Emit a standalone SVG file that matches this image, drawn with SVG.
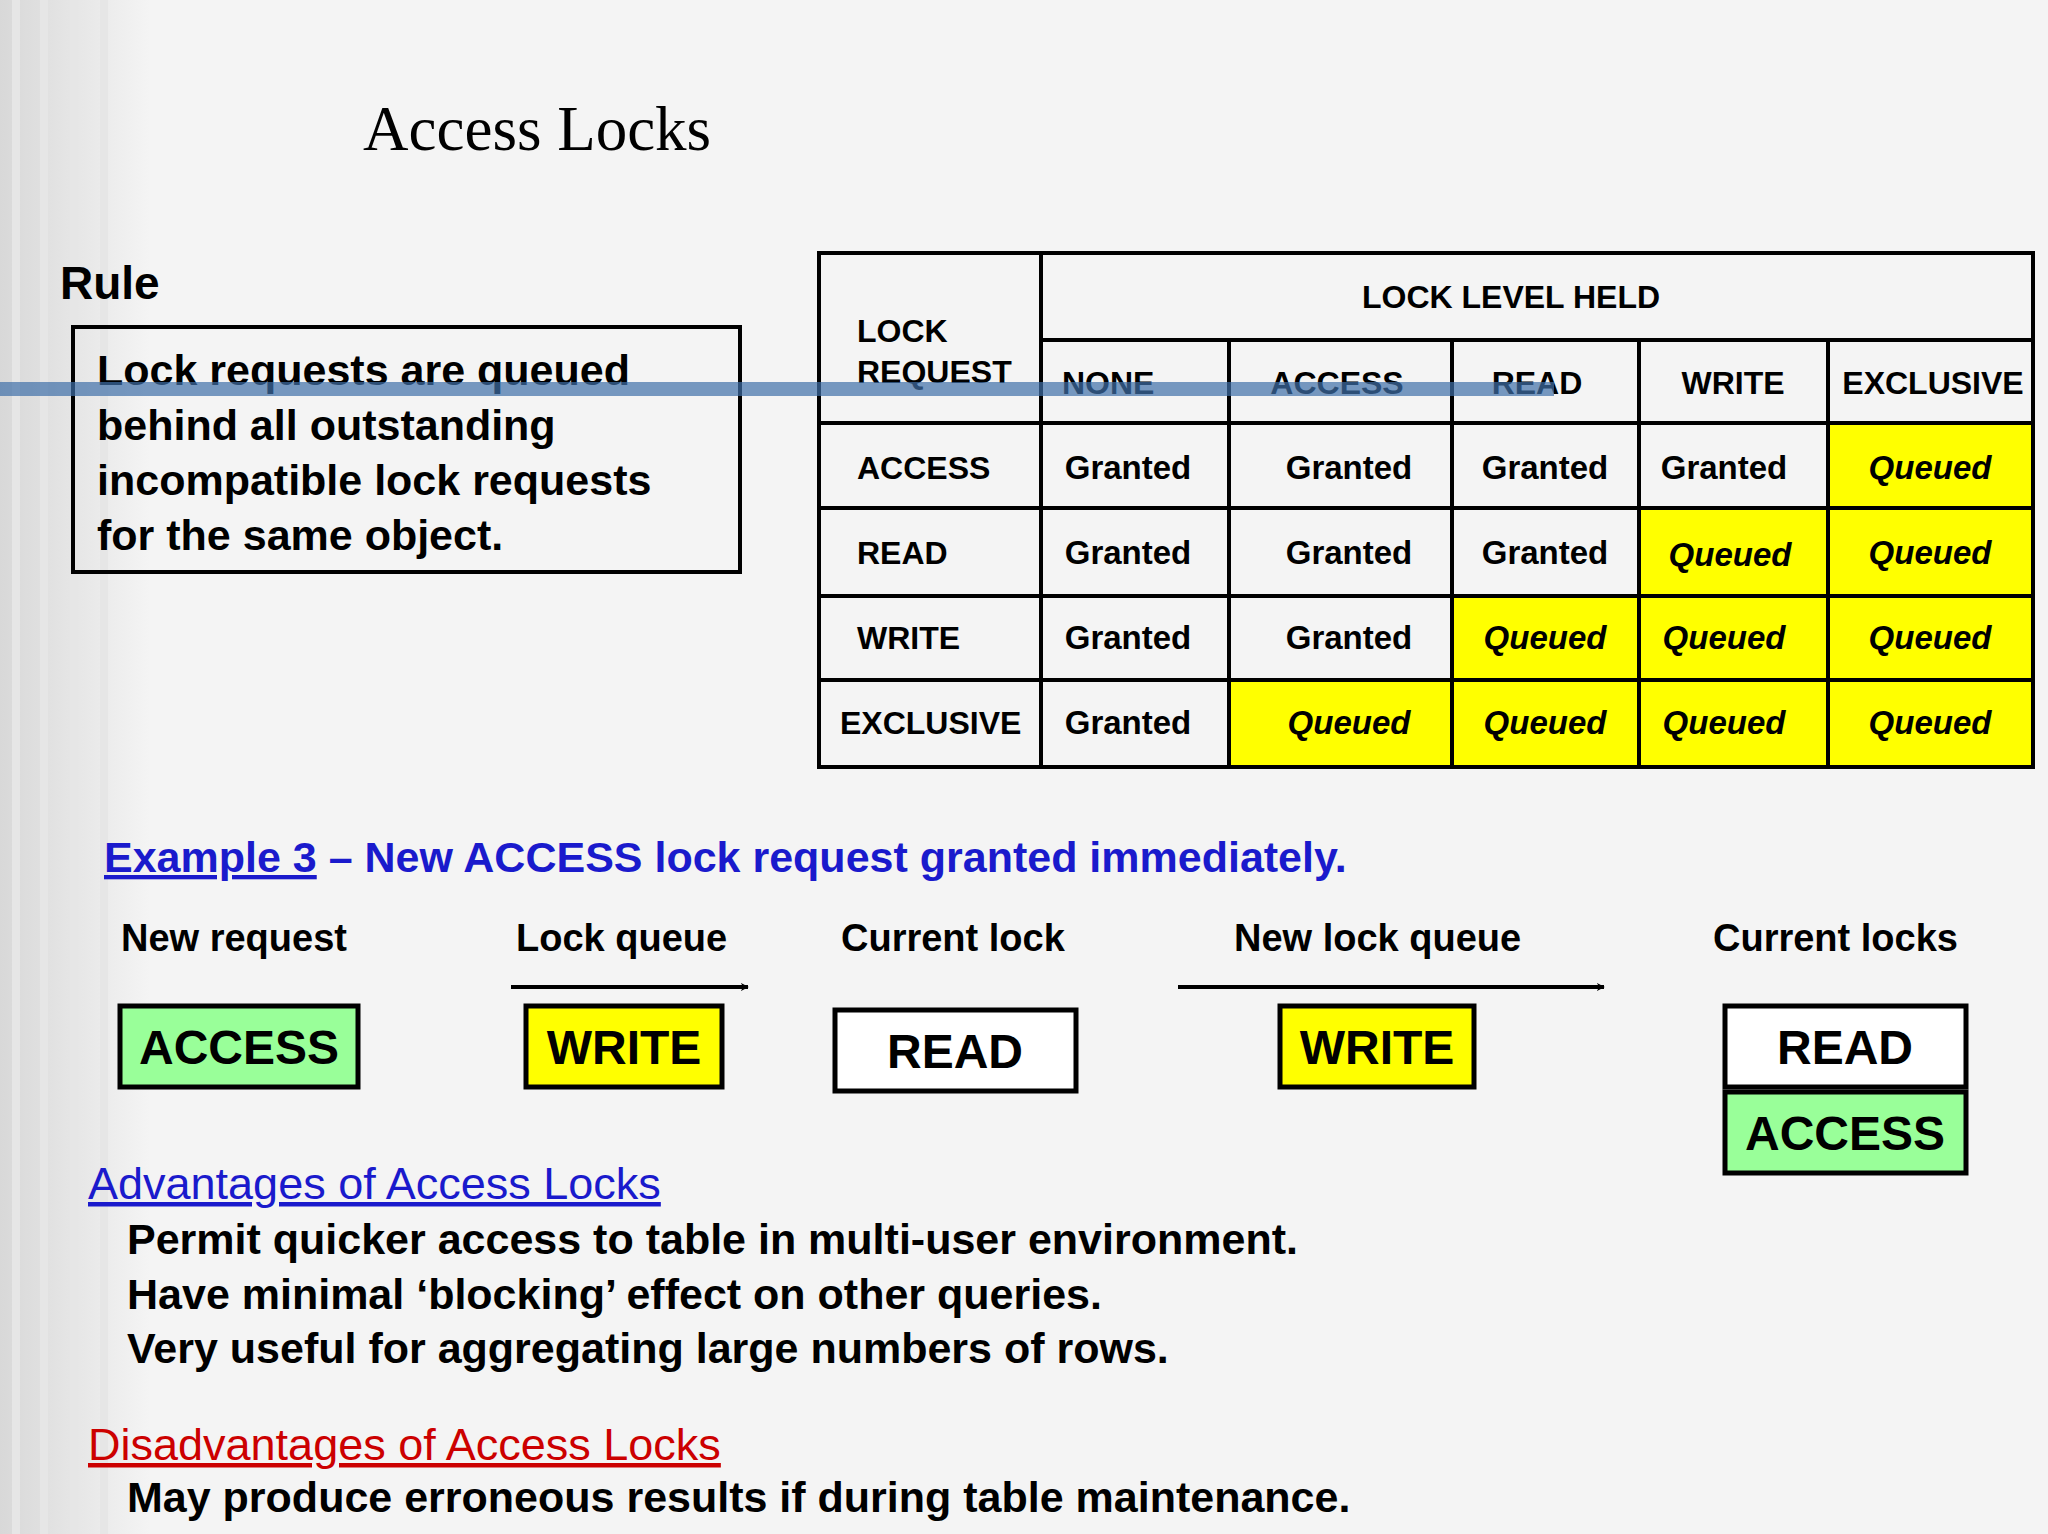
<svg xmlns="http://www.w3.org/2000/svg" width="2048" height="1534" viewBox="0 0 2048 1534">
<defs>
<linearGradient id="lg" x1="0" x2="1" y1="0" y2="0">
<stop offset="0" stop-color="#d8d8d8"/><stop offset="1" stop-color="#f4f4f4"/>
</linearGradient>
<marker id="ah" viewBox="0 0 10 10" refX="9" refY="5" markerWidth="8" markerHeight="8" orient="auto" markerUnits="userSpaceOnUse">
<path d="M0,0 L10,5 L0,10 L3,5 z" fill="#000"/>
</marker>
<style>
text{font-family:"Liberation Sans",Arial,sans-serif;font-weight:bold;fill:#000}
.th{font-size:32px}
.c{font-size:33px;text-anchor:middle}
.q{font-style:italic}
.y{fill:#ffff00}
.g{fill:#99ff99}
.w{fill:#fff}
.bx{stroke:#000;stroke-width:5}
.bt{font-size:48px;text-anchor:middle}
.hd{font-size:38px}
.bl{font-size:43px}
</style>
</defs>
<rect width="2048" height="1534" fill="#f4f4f4"/>
<rect width="150" height="1534" fill="url(#lg)"/>
<g fill="#e6e6e6"><rect x="12" y="0" width="8" height="1534"/><rect x="40" y="0" width="8" height="1534"/><rect x="70" y="0" width="8" height="1534"/><rect x="100" y="0" width="8" height="1534"/></g>
<text x="363" y="150" style="font-family:'Liberation Serif',serif;font-weight:normal;font-size:63px">Access Locks</text>
<text x="60" y="299" style="font-size:46px">Rule</text>
<g id="rule">
<rect x="73" y="327" width="667" height="245" fill="none" stroke="#000" stroke-width="4"/>
<text class="bl" x="97" y="385">Lock requests are queued</text>
<text class="bl" x="97" y="440">behind all outstanding</text>
<text class="bl" x="97" y="495">incompatible lock requests</text>
<text class="bl" x="97" y="550">for the same object.</text>
</g>
<g id="table">
<rect x="1828" y="423" width="205" height="85" class="y"/>
<rect x="1639" y="508" width="394" height="88" class="y"/>
<rect x="1452" y="596" width="581" height="84" class="y"/>
<rect x="1229" y="680" width="804" height="87" class="y"/>
<g stroke="#000" stroke-width="4" fill="none">
<rect x="819" y="253" width="1214" height="514"/>
<line x1="1041" y1="253" x2="1041" y2="767"/>
<line x1="1229" y1="340" x2="1229" y2="767"/>
<line x1="1452" y1="340" x2="1452" y2="767"/>
<line x1="1639" y1="340" x2="1639" y2="767"/>
<line x1="1828" y1="340" x2="1828" y2="767"/>
<line x1="1041" y1="340" x2="2033" y2="340"/>
<line x1="819" y1="423" x2="2033" y2="423"/>
<line x1="819" y1="508" x2="2033" y2="508"/>
<line x1="819" y1="596" x2="2033" y2="596"/>
<line x1="819" y1="680" x2="2033" y2="680"/>
</g>
<text class="th" x="1511" y="308" text-anchor="middle">LOCK LEVEL HELD</text>
<text class="th" x="857" y="342">LOCK</text>
<text class="th" x="857" y="383">REQUEST</text>
<text class="th" x="1062" y="394">NONE</text>
<text class="th" x="1337" y="394" text-anchor="middle">ACCESS</text>
<text class="th" x="1537" y="394" text-anchor="middle">READ</text>
<text class="th" x="1733" y="394" text-anchor="middle">WRITE</text>
<text class="th" x="1933" y="394" text-anchor="middle">EXCLUSIVE</text>
<text class="th" x="857" y="479">ACCESS</text>
<text class="th" x="857" y="564">READ</text>
<text class="th" x="857" y="649">WRITE</text>
<text class="th" x="840" y="734">EXCLUSIVE</text>
<g class="c">
<text class="c" x="1128" y="479">Granted</text><text class="c" x="1349" y="479">Granted</text><text class="c" x="1545" y="479">Granted</text><text class="c" x="1724" y="479">Granted</text><text class="c q" x="1930" y="479">Queued</text>
<text class="c" x="1128" y="564">Granted</text><text class="c" x="1349" y="564">Granted</text><text class="c" x="1545" y="564">Granted</text><text class="c q" x="1730" y="566">Queued</text><text class="c q" x="1930" y="564">Queued</text>
<text class="c" x="1128" y="649">Granted</text><text class="c" x="1349" y="649">Granted</text><text class="c q" x="1545" y="649">Queued</text><text class="c q" x="1724" y="649">Queued</text><text class="c q" x="1930" y="649">Queued</text>
<text class="c" x="1128" y="734">Granted</text><text class="c q" x="1349" y="734">Queued</text><text class="c q" x="1545" y="734">Queued</text><text class="c q" x="1724" y="734">Queued</text><text class="c q" x="1930" y="734">Queued</text>
</g>
</g>
<rect x="0" y="382" width="1554" height="14" fill="#3f6fa8" opacity="0.7"/>
<text x="104" y="872" style="font-size:43px;fill:#1a1acc"><tspan text-decoration="underline">Example 3</tspan> – New ACCESS lock request granted immediately.</text>
<text class="hd" x="121" y="951">New request</text>
<text class="hd" x="516" y="951">Lock queue</text>
<text class="hd" x="841" y="951">Current lock</text>
<text class="hd" x="1234" y="951">New lock queue</text>
<text class="hd" x="1713" y="951">Current locks</text>
<g id="connectors" stroke="#000" stroke-width="4">
<line x1="511" y1="987" x2="748" y2="987" marker-end="url(#ah)"/>
<line x1="1178" y1="987" x2="1604" y2="987" marker-end="url(#ah)"/>
</g>
<g id="n1"><rect x="120" y="1006" width="238" height="81" class="g bx"/><text class="bt" x="239" y="1064">ACCESS</text></g>
<g id="n2"><rect x="526" y="1006" width="196" height="81" class="y bx"/><text class="bt" x="624" y="1064">WRITE</text></g>
<g id="n3"><rect x="835" y="1010" width="241" height="81" class="w bx"/><text class="bt" x="955" y="1068">READ</text></g>
<g id="n4"><rect x="1280" y="1006" width="194" height="81" class="y bx"/><text class="bt" x="1377" y="1064">WRITE</text></g>
<g id="n5"><rect x="1725" y="1006" width="241" height="81" class="w bx"/><text class="bt" x="1845" y="1064">READ</text></g>
<g id="n6"><rect x="1725" y="1092" width="241" height="81" class="g bx"/><text class="bt" x="1845" y="1150">ACCESS</text></g>
<text x="88" y="1199" text-decoration="underline" style="font-size:45px;font-weight:normal;fill:#1a1acc">Advantages of Access Locks</text>
<text class="bl" x="127" y="1254">Permit quicker access to table in multi-user environment.</text>
<text class="bl" x="127" y="1309">Have minimal ‘blocking’ effect on other queries.</text>
<text class="bl" x="127" y="1363">Very useful for aggregating large numbers of rows.</text>
<text x="88" y="1460" text-decoration="underline" style="font-size:45px;font-weight:normal;fill:#cc0000">Disadvantages of Access Locks</text>
<text class="bl" x="127" y="1512">May produce erroneous results if during table maintenance.</text>
</svg>
